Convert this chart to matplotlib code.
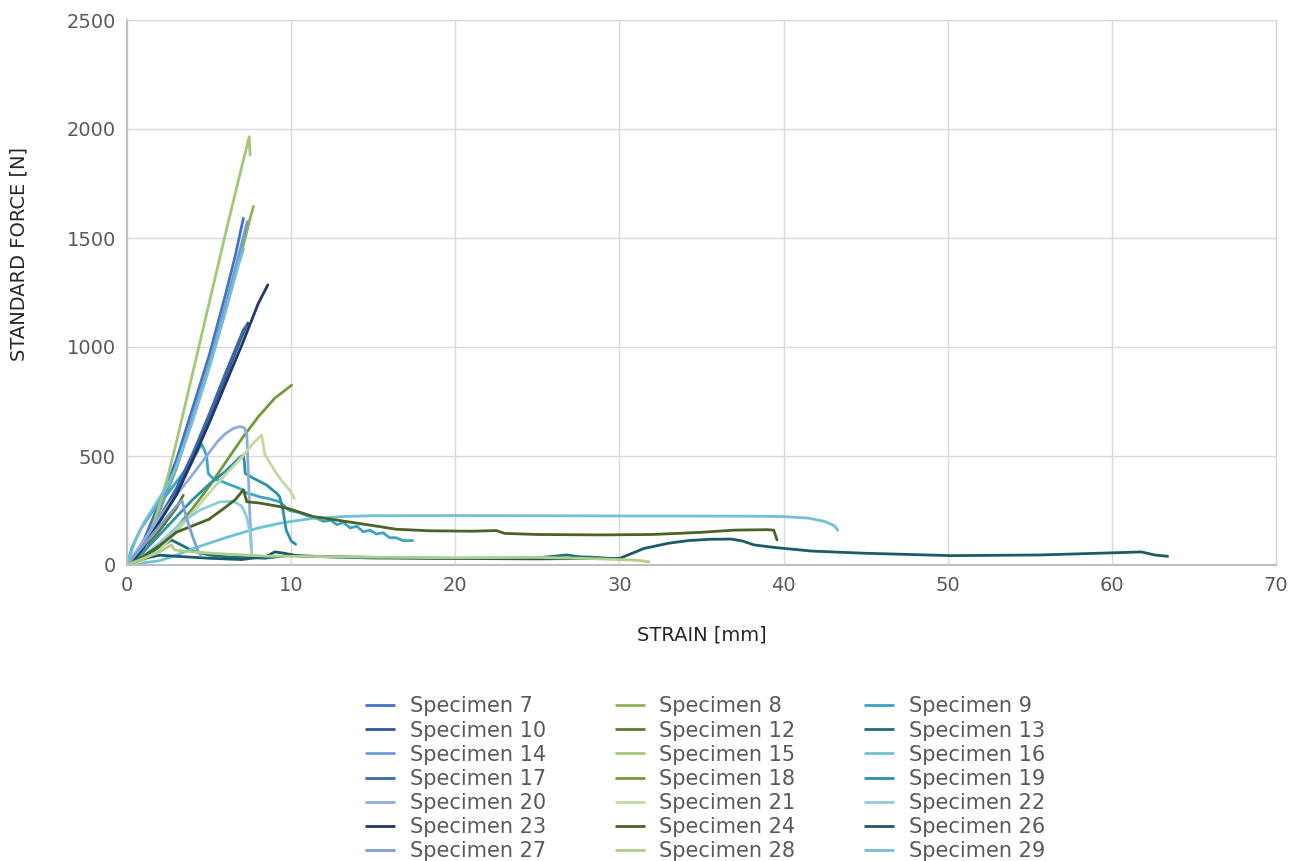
import matplotlib
matplotlib.use("Agg")
import matplotlib.pyplot as plt

# specimen numbers, in the order the legend lists them (row by row)
specimens = [7, 8, 9, 10, 12, 13, 14, 15, 16, 17, 18, 19, 20, 21, 22, 23, 24, 26, 27, 28, 29]

colors = {
    7: "#4472C4", 10: "#2F5597", 14: "#6F9BD8", 17: "#3B68A8", 20: "#8FAADC", 23: "#1F3864", 27: "#7C9FD6",
    8: "#8DB456", 12: "#5B7A2E", 15: "#A4C677", 18: "#72993A", 21: "#C3D9A0", 24: "#4A6326", 28: "#B0CE88",
    9: "#3CA5C4", 13: "#1F6F7F", 16: "#6EC2D6", 19: "#2C90A6", 22: "#8DCDDC", 26: "#1B5A6B", 29: "#74BFD3",
}

strain_07 = [0, 0.5, 1, 1.5, 2, 3, 4, 5, 6, 6.6, 7.09]
force_07 = [0, 40, 110, 200, 290, 480, 720, 960, 1240, 1420, 1590]

strain_08 = [0, 0.5, 1, 1.5, 2, 3, 4, 5, 6, 7, 7.5, 7.7]
force_08 = [0, 25, 80, 160, 250, 440, 670, 920, 1180, 1440, 1590, 1645]

strain_09 = [0, 0.3, 0.8, 1.5, 2.5, 3.5, 4.2, 4.55, 4.7, 4.85, 4.95, 5.2, 5.5, 5.9, 6.2, 6.5, 6.9,
             7.3, 7.7, 8.1, 8.6, 9.3, 9.9, 10.5, 10.9, 11.5, 12, 12.4, 12.8, 13.2, 13.6, 14, 14.4,
             14.8, 15.2, 15.6, 16, 16.4, 16.8, 17.4]
force_09 = [0, 80, 160, 240, 330, 430, 510, 555, 530, 500, 420, 400, 390, 380, 370, 362, 350,
            330, 322, 312, 305, 290, 250, 240, 228, 215, 200, 205, 185, 195, 170, 178, 152,
            160, 142, 148, 125, 125, 112, 112]

strain_10 = [0, 1, 2, 3, 4, 5, 6, 7, 7.36]
force_10 = [0, 90, 210, 340, 500, 680, 860, 1050, 1110]

strain_12 = [0, 1, 2, 3, 3.43]
force_12 = [0, 70, 160, 260, 320]

strain_13 = [0, 1, 2, 2.7, 3.3, 4, 5, 6, 8.4, 10, 12, 15, 20, 25, 26.8, 27.5, 28.5, 29.5, 30]
force_13 = [0, 40, 80, 115, 92, 65, 46, 38, 31, 45, 38, 32, 30, 33, 46, 38, 35, 30, 28]

strain_14 = [0, 0.5, 1, 1.5, 2, 3, 4, 5, 6, 6.8, 7.33]
force_14 = [0, 30, 90, 170, 260, 450, 680, 920, 1190, 1420, 1575]

strain_15 = [0, 0.5, 1, 1.5, 2, 2.5, 3, 4, 5, 6, 7, 7.45, 7.5]
force_15 = [0, 20, 60, 160, 280, 410, 560, 880, 1200, 1520, 1830, 1965, 1880]

strain_16 = [0, 2, 3, 4, 6, 8, 9.3, 10, 11.35, 13.4, 15, 20, 30, 38, 40, 41.5, 42.5, 43.1, 43.3]
force_16 = [0, 20, 45, 75, 125, 170, 191, 200, 214, 223, 226, 227, 225, 224, 222, 215, 200, 180, 160]

strain_17 = [0, 1, 2, 3, 4, 5, 6, 7.1, 7.25]
force_17 = [0, 100, 220, 350, 510, 690, 880, 1080, 1095]

strain_18 = [0, 1, 2, 3, 4, 5, 6, 7, 8, 9, 10.03]
force_18 = [0, 40, 100, 170, 260, 360, 470, 580, 680, 765, 825]

strain_19 = [0, 1, 2, 3, 4, 5, 6, 6.9, 7.09, 7.15, 7.2, 7.7, 8.5, 9.1, 9.3, 9.5, 9.7, 10, 10.28]
force_19 = [0, 60, 140, 220, 300, 370, 430, 495, 505, 470, 420, 398, 367, 330, 313, 252, 160, 110, 95]

strain_20 = [0, 1, 2, 3, 4, 5, 5.5, 6, 6.5, 6.9, 7.15, 7.3, 7.4, 7.5, 7.6]
force_20 = [0, 110, 220, 320, 415, 515, 565, 603, 627, 635, 630, 600, 400, 200, 50]

strain_21 = [0, 1, 2, 3, 4, 5, 6, 7, 7.7, 8.2, 8.4, 8.7, 9.1, 9.5, 9.9, 10.2]
force_21 = [0, 20, 70, 150, 240, 330, 415, 495, 560, 596, 505, 470, 420, 380, 344, 306]

strain_22 = [0, 1, 2, 3, 3.23, 4.45, 5.66, 6.48, 6.99, 7.29, 7.5, 7.6, 8]
force_22 = [0, 40, 100, 170, 191, 252, 290, 292, 270, 222, 145, 46, 40]

strain_23 = [0, 0.5, 1, 2, 3, 4, 5, 6, 7, 8, 8.58]
force_23 = [0, 30, 80, 200, 320, 480, 650, 830, 1010, 1200, 1285]

strain_24 = [0, 1, 2, 3, 4, 5, 6, 6.6, 7.09, 7.3, 8, 9.3, 10, 11.35, 12, 13.4, 15.4, 16.4, 18.4,
             21, 22.5, 23, 25, 28.8, 32, 35, 37, 39, 39.4, 39.6]
force_24 = [0, 40, 90, 150, 180, 210, 265, 300, 345, 290, 285, 268, 255, 222, 215, 199, 176, 164, 157,
            155, 158, 145, 140, 138, 140, 150, 160, 162, 160, 115]

strain_26 = [0, 1, 2, 3, 5, 7, 8.5, 9, 9.5, 10.5, 15, 20, 25, 28, 30, 31.5, 33, 34.2, 35.5, 36.8,
             37.5, 38.2, 39.5, 41.7, 44.9, 50.2, 55.6, 61, 61.8, 62.6, 63.4]
force_26 = [0, 30, 45, 40, 31, 25, 40, 60, 55, 40, 35, 30, 28, 30, 30, 76, 100, 112, 118, 119,
            110, 92, 80, 64, 54, 43, 46, 58, 60, 46, 40]

strain_27 = [0, 1, 2, 3, 3.35, 3.65, 4.0, 4.35, 4.5]
force_27 = [0, 90, 180, 270, 295, 210, 130, 60, 45]

strain_28 = [0, 1, 2, 2.7, 2.9, 4, 6, 8.4, 10, 15, 20, 25, 28, 30, 31, 31.8]
force_28 = [0, 30, 60, 92, 69, 60, 50, 41, 40, 36, 33, 35, 30, 25, 22, 15]

strain_29 = [0, 0.5, 1, 1.5, 2, 2.5, 3, 4, 5, 6, 6.8, 7.1]
force_29 = [0, 110, 190, 250, 310, 370, 450, 660, 900, 1160, 1380, 1450]

curves = {
    7: (strain_07, force_07), 8: (strain_08, force_08), 9: (strain_09, force_09),
    10: (strain_10, force_10), 12: (strain_12, force_12), 13: (strain_13, force_13),
    14: (strain_14, force_14), 15: (strain_15, force_15), 16: (strain_16, force_16),
    17: (strain_17, force_17), 18: (strain_18, force_18), 19: (strain_19, force_19),
    20: (strain_20, force_20), 21: (strain_21, force_21), 22: (strain_22, force_22),
    23: (strain_23, force_23), 24: (strain_24, force_24), 26: (strain_26, force_26),
    27: (strain_27, force_27), 28: (strain_28, force_28), 29: (strain_29, force_29),
}

text_color = "#595959"
grid_color = "#D9D9D9"

fig = plt.figure(figsize=(12.89, 8.61), dpi=100)
ax = fig.add_axes([127 / 1289, 1 - 565 / 861, 1149 / 1289, 545 / 861])

handles = []
for s in specimens:
    x, y = curves[s]
    h, = ax.plot(x, y, color=colors[s], lw=2.0, label=f"Specimen {s}",
                 solid_joinstyle="round", solid_capstyle="round")
    handles.append(h)

ax.set_xlim(0, 70)
ax.set_ylim(0, 2500)
ax.set_xticks(range(0, 71, 10))
ax.set_yticks(range(0, 2501, 500))
ax.grid(True, color=grid_color, lw=1)
ax.set_axisbelow(True)
ax.tick_params(length=0, labelsize=14, labelcolor=text_color, pad=8)

for side in ["top", "right"]:
    ax.spines[side].set_color(grid_color)
    ax.spines[side].set_linewidth(1)
for side in ["left", "bottom"]:
    ax.spines[side].set_color("#BFBFBF")
    ax.spines[side].set_linewidth(1.5)

ax.set_xlabel("STRAIN [mm]", fontsize=14, color="#262626", labelpad=22)
ax.set_ylabel("STANDARD FORCE [N]", fontsize=14, color="#262626")
ax.yaxis.set_label_coords(-0.086, 0.57)

# legend is filled column by column, so reorder to read row by row
order = []
for c in range(3):
    order += handles[c::3]
leg = fig.legend(handles=order, labels=[h.get_label() for h in order], ncol=3,
                 loc="upper center", bbox_to_anchor=(0.547, 1 - 686 / 861),
                 frameon=False, fontsize=15, labelspacing=0.2, handlelength=1.45,
                 handletextpad=0.7, columnspacing=3.3, borderpad=0)
for t in leg.get_texts():
    t.set_color(text_color)
for line in leg.legend_handles:
    line.set_linewidth(2.0)
    line.set_solid_capstyle("butt")

fig.savefig("out.png", dpi=100)
